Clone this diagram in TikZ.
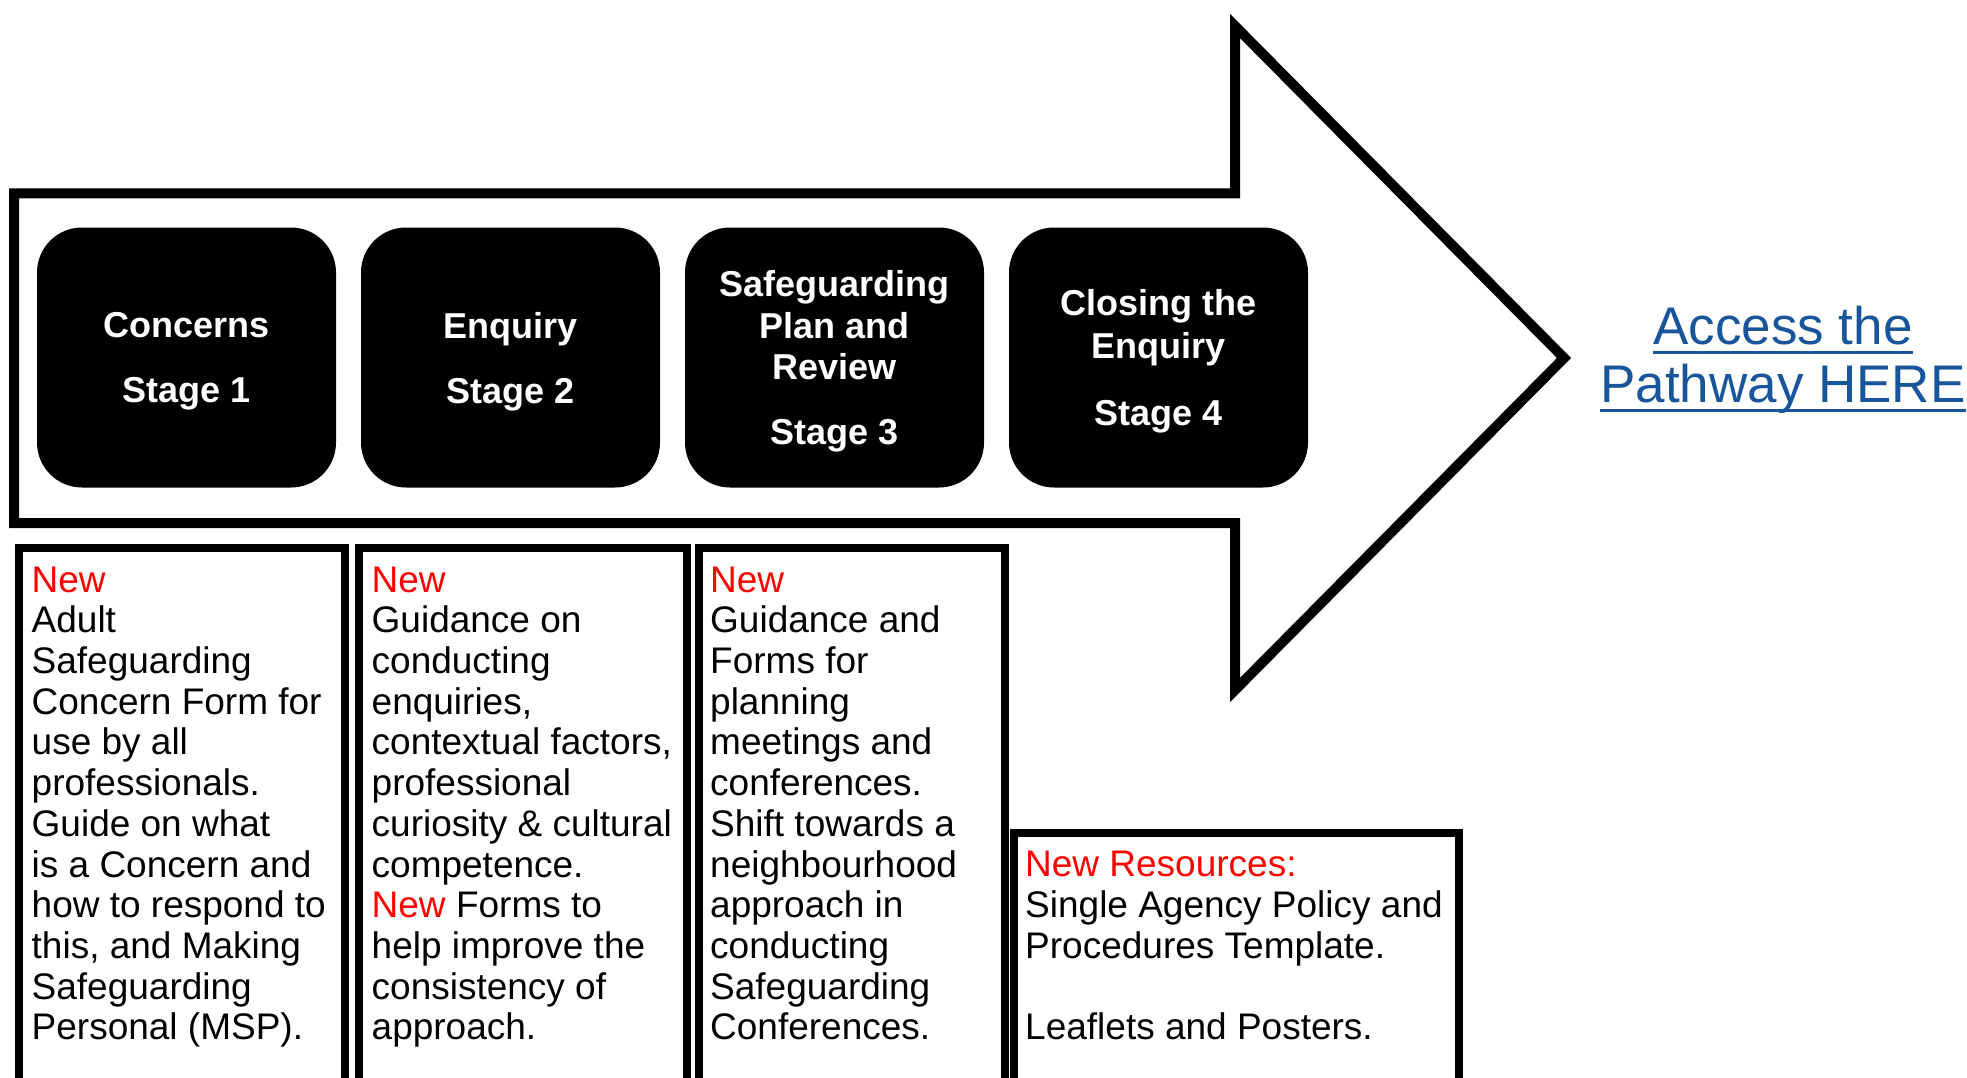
\documentclass[tikz,border=0pt]{standalone}
\usepackage{fontspec}
\setmainfont{Liberation Sans}
\usetikzlibrary{positioning}

\definecolor{rojonuevo}{RGB}{255,0,0}
\definecolor{azulenlace}{RGB}{24,85,155}
\newcommand{\nuevo}[1]{\textcolor{rojonuevo}{#1}}
\newcommand{\subrayado}[1]{\setbox0\hbox{#1}\rlap{\rule[-9pt]{\wd0}{3pt}}\box0}

\begin{document}
\begin{tikzpicture}[x=1pt, y=1pt, node distance=324pt, auto]
		% Definición de estilos
		\tikzstyle{etapa} = [rectangle, fill=black, text=white, rounded corners=45pt,
			minimum width=299pt, minimum height=260pt, inner sep=0pt, align=center,
			font=\bfseries\fontsize{36}{41.5}\selectfont]
		\tikzstyle{caja} = [draw, line width=8pt]
		\tikzstyle{texto} = [anchor=north west, inner sep=0pt, align=left,
			font=\fontsize{37}{40.7}\selectfont]
		\tikzstyle{flecha} = [draw, line width=10pt, miter limit=10]

		\useasboundingbox (0,0) rectangle (1967,-1078);
		\clip (0,0) rectangle (1967,-1078);

		% Flecha
		\path [flecha] (14,-193.5) -- (1235,-193.5) -- (1235,-26) -- (1564,-358)
			-- (1235,-690) -- (1235,-523) -- (14,-523) -- cycle;

		% Nodos
		\node [etapa] (etapa1) at (186.5,-357.5) {Concerns\\[23.5pt]\smash{Stage 1}};
		\node [etapa, right of=etapa1] (etapa2) {Enquiry\\[23.5pt]\smash{Stage 2}};
		\node [etapa, right of=etapa2] (etapa3) {Safeguarding\\Plan and\\Review\\[23.5pt]\smash{Stage 3}};
		\node [etapa, right of=etapa3] (etapa4) {Closing the\\[1.5pt]Enquiry\\[26pt]\smash{Stage 4}};

		% Cajas
		\draw [caja] (18.5,-548) rectangle (345,-1100);
		\draw [caja] (358.5,-548) rectangle (686.5,-1100);
		\draw [caja] (698.5,-548) rectangle (1004.5,-1100);
		\draw [caja] (1013.5,-833) rectangle (1459,-1100);

		% Textos
		\node [texto] (texto1) at (31.5,-566.5) {\nuevo{New}\\Adult\\Safeguarding\\Concern Form for\\use by all\\professionals.\\Guide on what\\is a Concern and\\how to respond to\\this, and Making\\Safeguarding\\Personal (MSP).};
		\node [texto] (texto2) at (371.5,-566.5) {\nuevo{New}\\Guidance on\\conducting\\enquiries,\\contextual factors,\\professional\\curiosity \& cultural\\competence.\\\nuevo{New} Forms to\\help improve the\\consistency of\\approach.};
		\node [texto] (texto3) at (710,-566.5) {\nuevo{New}\\Guidance and\\Forms for\\planning\\meetings and\\conferences.\\Shift towards a\\neighbourhood\\approach in\\conducting\\Safeguarding\\Conferences.};
		\node [texto] (texto4) at (1025,-851) {\nuevo{New Resources:}\\Single Agency Policy and\\Procedures Template.\\[40.7pt]Leaflets and Posters.};

		% Enlace
		\node [anchor=north, inner sep=0pt, align=center, text=azulenlace,
			font=\fontsize{53}{58}\selectfont] (enlace) at (1783,-306)
			{\subrayado{Access the}\\\subrayado{Pathway HERE}};
	\end{tikzpicture}
\end{document}
